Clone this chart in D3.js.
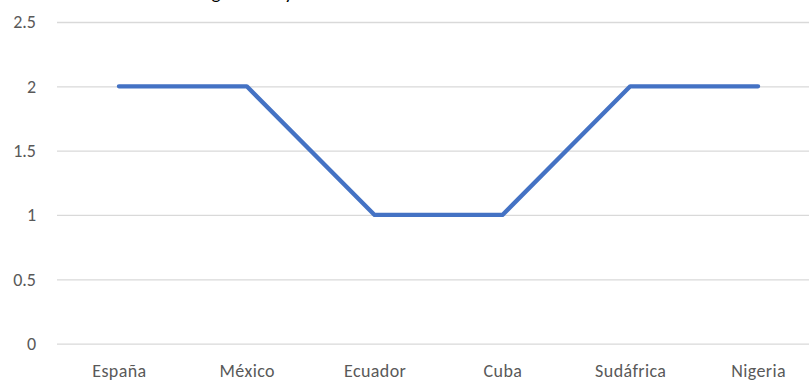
<!DOCTYPE html>
<html>
<head>
<meta charset="utf-8">
<script src="https://cdn.jsdelivr.net/npm/d3@7"></script>
<style>
  html, body { margin: 0; padding: 0; background: #fff; }
  svg { display: block; }
  text { font-family: Carlito, Lato, "Open Sans", sans-serif; }
</style>
</head>
<body>
<svg id="chart" width="809" height="381"></svg>
<script>
// Chart data
const title = "Rango etario y nivel educativo";
const categories = ["España", "México", "Ecuador", "Cuba", "Sudáfrica", "Nigeria"];
const values = [2, 2, 1, 1, 2, 2];
const yTicks = [0, 0.5, 1, 1.5, 2, 2.5];

const W = 809, H = 381;
const plot = { left: 55, right: 822, top: 22, bottom: 343.6 };

const svg = d3.select("#chart");

const x = d3.scalePoint()
  .domain(categories)
  .range([plot.left, plot.right])
  .padding(0.5);

const y = d3.scaleLinear()
  .domain([0, 2.5])
  .range([plot.bottom, plot.top]);

// Title, largely above the top edge
svg.append("text")
  .attr("x", 182)
  .attr("y", -1)
  .attr("font-size", 19)
  .attr("fill", "#000")
  .text(title);

// Gridlines and value labels
const yAxis = d3.axisLeft(y)
  .tickValues(yTicks)
  .tickFormat(d3.format("~g"))
  .tickSize(-(W - 57))
  .tickPadding(21);

const gy = svg.append("g")
  .attr("transform", `translate(57,0)`)
  .call(yAxis);
gy.select(".domain").remove();
gy.selectAll(".tick line")
  .attr("stroke", "#d9d9d9")
  .attr("stroke-width", 1.3);
gy.selectAll(".tick text")
  .attr("font-size", 18)
  .attr("fill", "#595959");

// Category axis
const xAxis = d3.axisBottom(x).tickSize(0).tickPadding(0);
const gx = svg.append("g")
  .attr("transform", `translate(0,${plot.bottom})`)
  .call(xAxis);
gx.select(".domain").remove();
gx.selectAll(".tick text")
  .attr("dy", null)
  .attr("y", 33)
  .attr("font-size", 18)
  .attr("letter-spacing", 0.4)
  .attr("fill", "#595959");

// Series line
const line = d3.line()
  .x((d, i) => x(categories[i]))
  .y(d => y(d));

svg.append("path")
  .datum(values)
  .attr("d", line)
  .attr("fill", "none")
  .attr("stroke", "#4472C4")
  .attr("stroke-width", 4.3)
  .attr("stroke-linejoin", "round")
  .attr("stroke-linecap", "round");
</script>
</body>
</html>
